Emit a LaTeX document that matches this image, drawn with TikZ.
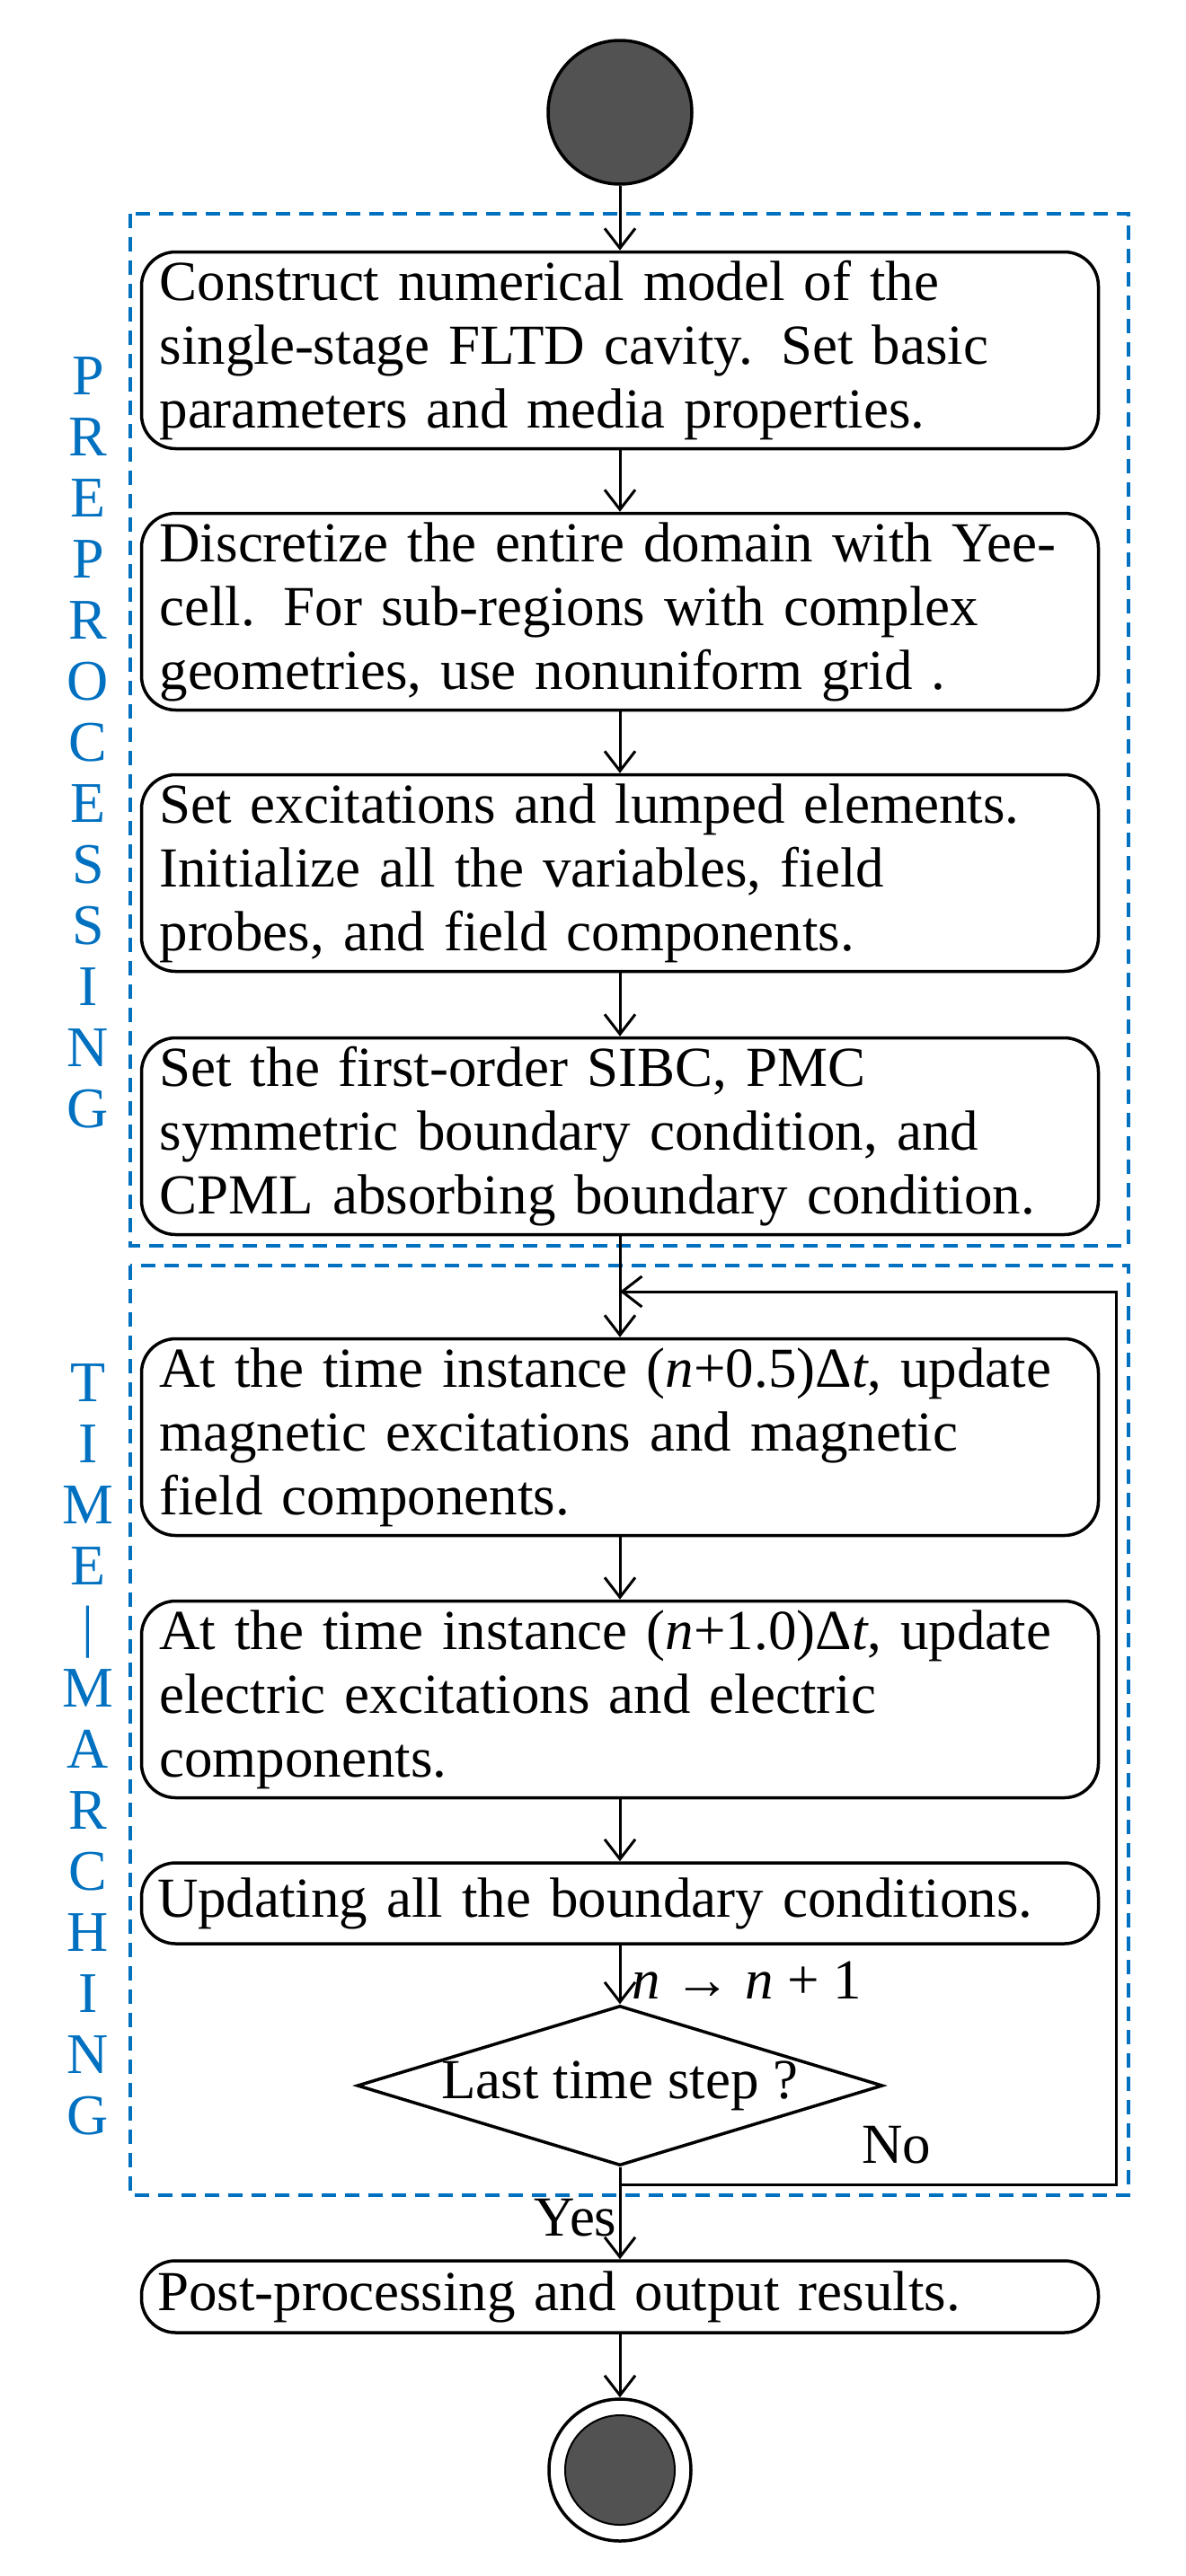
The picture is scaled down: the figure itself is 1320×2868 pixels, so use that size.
\documentclass[tikz,border=0pt]{standalone}
\usepackage{fontspec}
\setmainfont{Liberation Serif}
\usetikzlibrary{shapes.geometric,arrows.meta}
\definecolor{lblue}{RGB}{0,112,192}
\newcommand{\jline}[1]{\makebox[\linewidth][s]{#1}\\}
\begin{document}
\begin{tikzpicture}[x=1pt,y=-1pt,
  box/.style={draw,line width=3.5pt,rounded corners=38pt,minimum width=1065pt,text width=1025pt,align=left,inner sep=0pt,font=\fontsize{63}{71}\selectfont},
  arr/.style={line width=3pt,-{Straight Barb[length=22pt,width=34pt,line width=3pt]}},
  dashedblue/.style={draw=lblue,line width=3.5pt,dash pattern=on 16pt off 10pt},
  vlab/.style={text=lblue,align=center,font=\fontsize{64}{68}\selectfont,inner sep=0pt}]
\useasboundingbox (0,0) rectangle (1320,2868);
\draw[dashedblue] (145,238) rectangle (1256,1387);
\draw[dashedblue] (145,1409) rectangle (1256,2444);
\node[vlab] (pre) at (98,827) {P\\R\\E\\P\\R\\O\\C\\E\\S\\S\\I\\N\\G};
\node[vlab] (tm) at (98,1948) {T\\I\\M\\E\\|\\M\\A\\R\\C\\H\\I\\N\\G};
\node[circle,draw,line width=3.5pt,fill=black!68,minimum size=160pt,inner sep=0pt] (start) at (690,125) {};
\node[box,minimum height=219pt] (b1) at (690,390) {\jline{Construct numerical model of the}\jline{single-stage FLTD cavity. Set basic}parameters and media properties.};
\node[box,minimum height=219pt] (b2) at (690,681) {\jline{Discretize the entire domain with Yee-}\jline{cell. For sub-regions with complex}geometries, use nonuniform grid .};
\node[box,minimum height=219pt] (b3) at (690,972) {\jline{Set excitations and lumped elements.}\jline{Initialize all the variables, field}probes, and field components.};
\node[box,minimum height=219pt] (b4) at (690,1265) {\jline{Set the first-order SIBC, PMC}\jline{symmetric boundary condition, and}CPML absorbing boundary condition.};
\node[box,minimum height=219pt] (t1) at (690,1600) {\jline{At the time instance (\emph{n}+0.5)Δ\emph{t}, update}\jline{magnetic excitations and magnetic}field components.};
\node[box,minimum height=219pt] (t2) at (690,1892) {\jline{At the time instance (\emph{n}+1.0)Δ\emph{t}, update}\jline{electric excitations and electric}components.};
\node[box,minimum height=90pt,text width=1030pt] (t3) at (690,2119) {Updating all the boundary conditions.};
\node[diamond,draw,line width=3.5pt,minimum width=585pt,minimum height=178pt,aspect=3.29,inner sep=0pt,font=\fontsize{63}{71}\selectfont] (d) at (690,2322) {Last time step ?};
\node[box,minimum height=80pt,text width=1030pt] (post) at (690,2557) {Post-processing and output results.};
\node[circle,draw,line width=3.5pt,minimum size=158pt,inner sep=0pt] (end) at (690,2750) {};
\node[circle,fill=black!68,draw,line width=2pt,minimum size=122pt,inner sep=0pt] (endin) at (690,2750) {};
\coordinate (lb) at (690,2432);
\coordinate (lr) at (1242,1438);
\coordinate (lt) at (690,1438);
\draw[arr] (start) -- (b1);
\draw[arr] (b1) -- (b2);
\draw[arr] (b2) -- (b3);
\draw[arr] (b3) -- (b4);
\draw[arr] (b4) -- (t1);
\draw[arr] (t1) -- (t2);
\draw[arr] (t2) -- (t3);
\draw[arr] (t3) -- node[right,xshift=10pt,yshift=-6pt,font=\fontsize{63}{71}\selectfont,inner sep=2pt] (nl) {\emph{n} → \emph{n} + 1} (d);
\draw[arr] (d) -- node[left,pos=0.55,font=\fontsize{63}{71}\selectfont,inner sep=2pt] (yes) {Yes} (post);
\draw[arr] (post) -- (end);
\draw[arr] (d.south) -- (lb) -| (lr) -- (lt);
\node[font=\fontsize{63}{71}\selectfont] (no) at (998,2388) {No};
\end{tikzpicture}
\end{document}
